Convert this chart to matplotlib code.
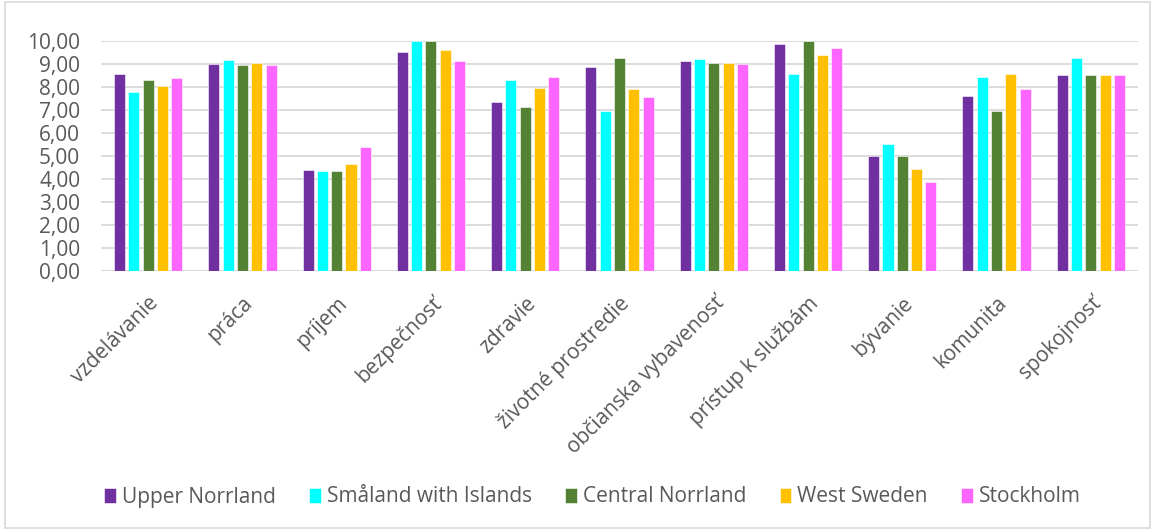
import matplotlib
matplotlib.use("Agg")
import matplotlib.pyplot as plt
from matplotlib.patches import Rectangle
import numpy as np

plt.rcParams['font.family'] = ['Open Sans', 'DejaVu Sans']

categories = ["vzdelávanie", "práca", "príjem", "bezpečnosť", "zdravie",
              "životné prostredie", "občianska vybavenosť", "prístup k službám",
              "bývanie", "komunita", "spokojnosť"]

series_names = ["Upper Norrland", "Småland with Islands", "Central Norrland",
                "West Sweden", "Stockholm"]

upper_norrland   = [8.54, 8.97, 4.36, 9.49, 7.33, 8.84, 9.10, 9.84, 4.97, 7.59, 8.51]
smaland_islands  = [7.75, 9.16, 4.35, 10.00, 8.29, 6.96, 9.22, 8.55, 5.52, 8.41, 9.25]
central_norrland = [8.28, 8.94, 4.33, 10.00, 7.10, 9.26, 9.01, 10.00, 4.97, 6.94, 8.51]
west_sweden      = [8.04, 9.03, 4.64, 9.61, 7.94, 7.90, 9.01, 9.36, 4.41, 8.57, 8.51]
stockholm        = [8.38, 8.94, 5.38, 9.12, 8.41, 7.55, 9.00, 9.68, 3.86, 7.88, 8.51]

series_values = [upper_norrland, smaland_islands, central_norrland, west_sweden, stockholm]
colors = ["#7030A0", "#00FFFF", "#548235", "#FFC000", "#FF66FF"]

y_ticks = np.arange(0, 11, 1)
y_tick_labels = [f"{v:.2f}".replace(".", ",") for v in y_ticks]

fig = plt.figure(figsize=(11.55, 5.30), dpi=100)
ax = fig.add_axes([101 / 1155, 1 - 270.7 / 530, (1138 - 101) / 1155, 230 / 530])

x = np.arange(len(categories))
step = 0.152
width = 0.117
for i, (name, vals, col) in enumerate(zip(series_names, series_values, colors)):
    ax.bar(x + (i - 2) * step, vals, width=width, color=col, label=name,
           edgecolor="white", linewidth=0.4, zorder=3)

ax.set_xlim(-0.5, len(categories) - 0.5)
ax.set_ylim(0, 10)
ax.set_yticks(y_ticks)
ax.set_yticklabels(y_tick_labels, fontsize=15, color="#595959")
ax.yaxis.grid(True, color="#D9D9D9", linewidth=1.3, zorder=0)
ax.set_xticks(x)
ax.set_xticklabels(categories, rotation=45, ha="right", rotation_mode="anchor",
                   fontsize=15, color="#595959")
ax.tick_params(axis="both", length=0)
ax.tick_params(axis="x", pad=16)
ax.tick_params(axis="y", pad=15)
for s in ax.spines.values():
    s.set_visible(False)
ax.axhline(0, color="#D9D9D9", linewidth=1.3, zorder=2)

handles, labels = ax.get_legend_handles_labels()
fig.legend(handles, labels, loc="center", bbox_to_anchor=(0.513, 1 - 497 / 530),
           ncol=5, frameon=False, fontsize=15, handlelength=0.55, handleheight=0.7,
           handletextpad=0.3, columnspacing=1.6, labelcolor="#595959")

fig.patches.append(Rectangle((0.004, 0.004), 0.992, 0.992, transform=fig.transFigure,
                             fill=False, edgecolor="#D9D9D9", linewidth=1.2))

fig.savefig("out.png", dpi=100, facecolor="white")
